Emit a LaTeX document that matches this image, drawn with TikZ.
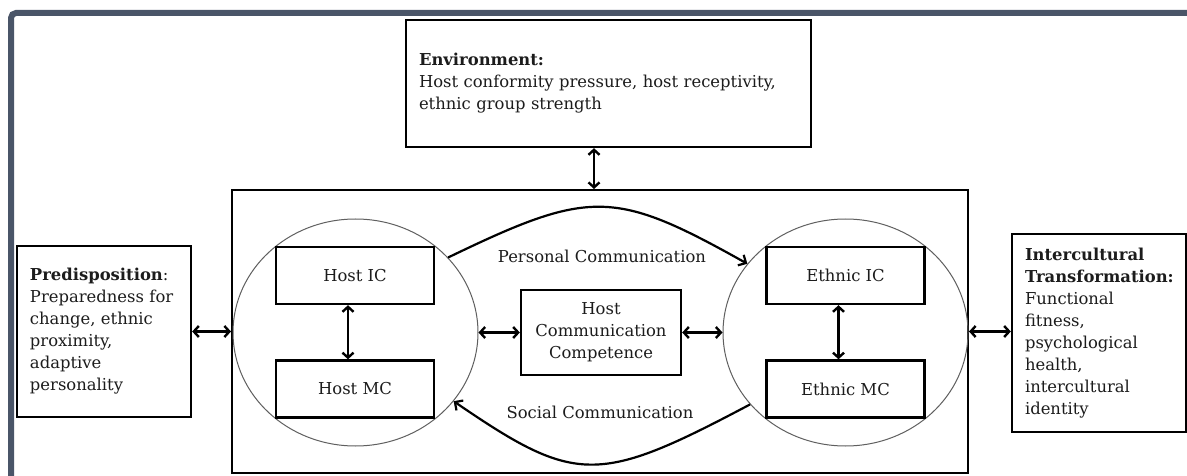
\documentclass[tikz,border=0pt]{standalone}
\usepackage{fontspec}
\setmainfont{DejaVu Serif}
\usetikzlibrary{arrows.meta,shapes.geometric}
\definecolor{framec}{RGB}{74,85,104}
\definecolor{txt}{RGB}{28,28,28}
\definecolor{ringc}{RGB}{95,95,95}
\begin{document}
\begin{tikzpicture}[x=1pt,y=-1pt,
  font=\fontsize{16.4}{22}\selectfont,
  box/.style={draw=black,line width=2.4pt,fill=white,inner sep=0pt,text=txt},
  infobox/.style={box,text width=#1,align=left,inner xsep=13pt},
  ring/.style={draw=ringc,line width=1pt,ellipse,minimum width=245pt,minimum height=227pt,inner sep=0pt},
  dbl/.style={line width=2.4pt,{Straight Barb[length=5pt,width=11pt]}-{Straight Barb[length=5pt,width=11pt]}},
  flow/.style={line width=2.2pt,-{Straight Barb[length=6pt,width=12pt]}},
  lbl/.style={text=txt,inner sep=1pt}
]
\fill[white] (0,0) rectangle (1187,476);
\useasboundingbox (0,0) rectangle (1187,476);
\draw[framec,line width=6pt,rounded corners=5pt] (11,500) -- (11,13) -- (1200,13);

\node[box,minimum width=736pt,minimum height=283pt,line width=2pt,fill=none] (main) at (600,331.5) {};
\node[ring] (hring) at (355.5,332.5) {};
\node[ring] (ering) at (845.5,332.5) {};

\node[infobox=379pt,minimum height=127pt] (env) at (608.5,83.5)
  {\textbf{Environment:}\\Host conformity pressure, host receptivity,\\ethnic group strength};
\node[infobox=148pt,minimum height=171pt] (pre) at (104,331.5)
  {\textbf{Predisposition}:\\Preparedness for\\change, ethnic\\proximity,\\adaptive\\personality};
\node[infobox=148pt,minimum height=198pt] (ict) at (1099,333)
  {\textbf{Intercultural}\\\textbf{Transformation:}\\Functional\\fitness,\\psychological\\health,\\intercultural\\identity};

\node[box,minimum width=158pt,minimum height=57pt] (hic) at (355,275.5) {Host IC};
\node[box,minimum width=158pt,minimum height=57pt] (hmc) at (355,389) {Host MC};
\node[box,minimum width=158pt,minimum height=57pt] (eic) at (845.5,275.5) {Ethnic IC};
\node[box,minimum width=158pt,minimum height=57pt] (emc) at (845.5,389) {Ethnic MC};
\node[box,minimum width=160pt,minimum height=85pt,align=center] (hcc) at (601,332.5)
  {Host\\Communication\\Competence};

\node[lbl] (pc) at (602,256) {Personal Communication};
\node[lbl] (sc) at (600,412) {Social Communication};

\draw[flow] (hring.39.5) .. controls (590,189) and (614,189) .. (ering.145.3);
\draw[flow] (ering.217.8) .. controls (598,485) and (576,485) .. (hring.-35.5);

\draw[dbl] ([xshift=-7pt]hic.south) -- ([xshift=-7pt]hmc.north);
\draw[dbl] ([xshift=-7pt]eic.south) -- ([xshift=-7pt]emc.north);
\draw[dbl] ([xshift=-14.5pt]env.south) -- ([xshift=-14.5pt]env.south |- main.north);
\draw[dbl] (pre.east) -- (pre.east -| main.west);
\draw[dbl] (main.east) -- (main.east -| ict.west);
\draw[dbl] (hring.east) -- (hcc.west);
\draw[dbl] (hcc.east) -- (ering.west);
\end{tikzpicture}
\end{document}
